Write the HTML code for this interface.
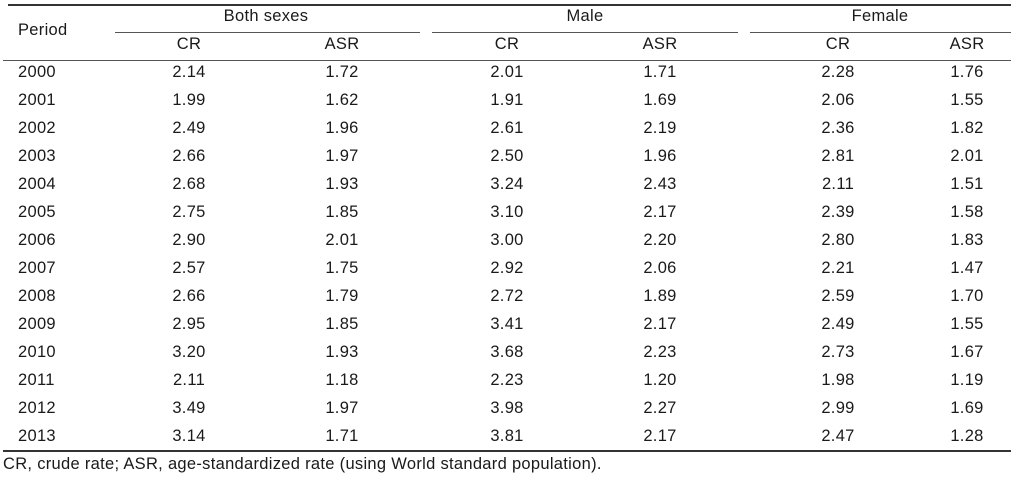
<!DOCTYPE html>
<html><head><meta charset="utf-8"><style>
body{margin:0;width:1012px;height:480px;background:#fff;position:relative;overflow:hidden;font-family:"Liberation Sans",Arial,sans-serif;color:#1a1a1a;font-size:16.5px;letter-spacing:0.3px}
.t{position:absolute;white-space:nowrap;line-height:19px}
.c{transform:translateX(-50%)}
.l{position:absolute;background:#333}
</style></head><body>
<div class="l" style="left:8px;top:4px;width:1003px;height:2px"></div>
<div class="l" style="left:115px;top:32px;width:305px;height:1px;background:#555"></div>
<div class="l" style="left:432px;top:32px;width:306px;height:1px;background:#555"></div>
<div class="l" style="left:750px;top:32px;width:261px;height:1px;background:#555"></div>
<div class="l" style="left:3px;top:60px;width:1008px;height:1px;background:#555"></div>
<div class="l" style="left:3px;top:450px;width:1008px;height:2px"></div>
<div class="t" style="left:18px;top:21px">Period</div>
<div class="t c" style="left:266px;top:7px">Both sexes</div>
<div class="t c" style="left:585px;top:7px">Male</div>
<div class="t c" style="left:880px;top:7px">Female</div>
<div class="t" style="left:3px;top:455px">CR, crude rate; ASR, age-standardized rate (using World standard population).</div>
<div id="tbl"></div>
<script>
const periods=["2000","2001","2002","2003","2004","2005","2006","2007","2008","2009","2010","2011","2012","2013"];
const bothCR=["2.14","1.99","2.49","2.66","2.68","2.75","2.90","2.57","2.66","2.95","3.20","2.11","3.49","3.14"];
const bothASR=["1.72","1.62","1.96","1.97","1.93","1.85","2.01","1.75","1.79","1.85","1.93","1.18","1.97","1.71"];
const maleCR=["2.01","1.91","2.61","2.50","3.24","3.10","3.00","2.92","2.72","3.41","3.68","2.23","3.98","3.81"];
const maleASR=["1.71","1.69","2.19","1.96","2.43","2.17","2.20","2.06","1.89","2.17","2.23","1.20","2.27","2.17"];
const femCR=["2.28","2.06","2.36","2.81","2.11","2.39","2.80","2.21","2.59","2.49","2.73","1.98","2.99","2.47"];
const femASR=["1.76","1.55","1.82","2.01","1.51","1.58","1.83","1.47","1.70","1.55","1.67","1.19","1.69","1.28"];
const cols=[[bothCR,189,"both-cr","CR"],[bothASR,342,"both-asr","ASR"],[maleCR,507,"male-cr","CR"],[maleASR,660,"male-asr","ASR"],[femCR,838,"female-cr","CR"],[femASR,967,"female-asr","ASR"]];
const root=document.getElementById('tbl');
function mk(txt,x,y,center,name){const d=document.createElement('div');d.className='t'+(center?' c':'');d.style.left=x+'px';d.style.top=y+'px';d.textContent=txt;


root.appendChild(d);}
cols.forEach(c=>mk(c[3],c[1],35,true,c[2]+'-header'));
periods.forEach((p,i)=>{const y=63+i*28;mk(p,18,y,false,'period-'+p);cols.forEach(c=>mk(c[0][i],c[1],y,true,c[2]+'-'+p));});
</script>
</body></html>
